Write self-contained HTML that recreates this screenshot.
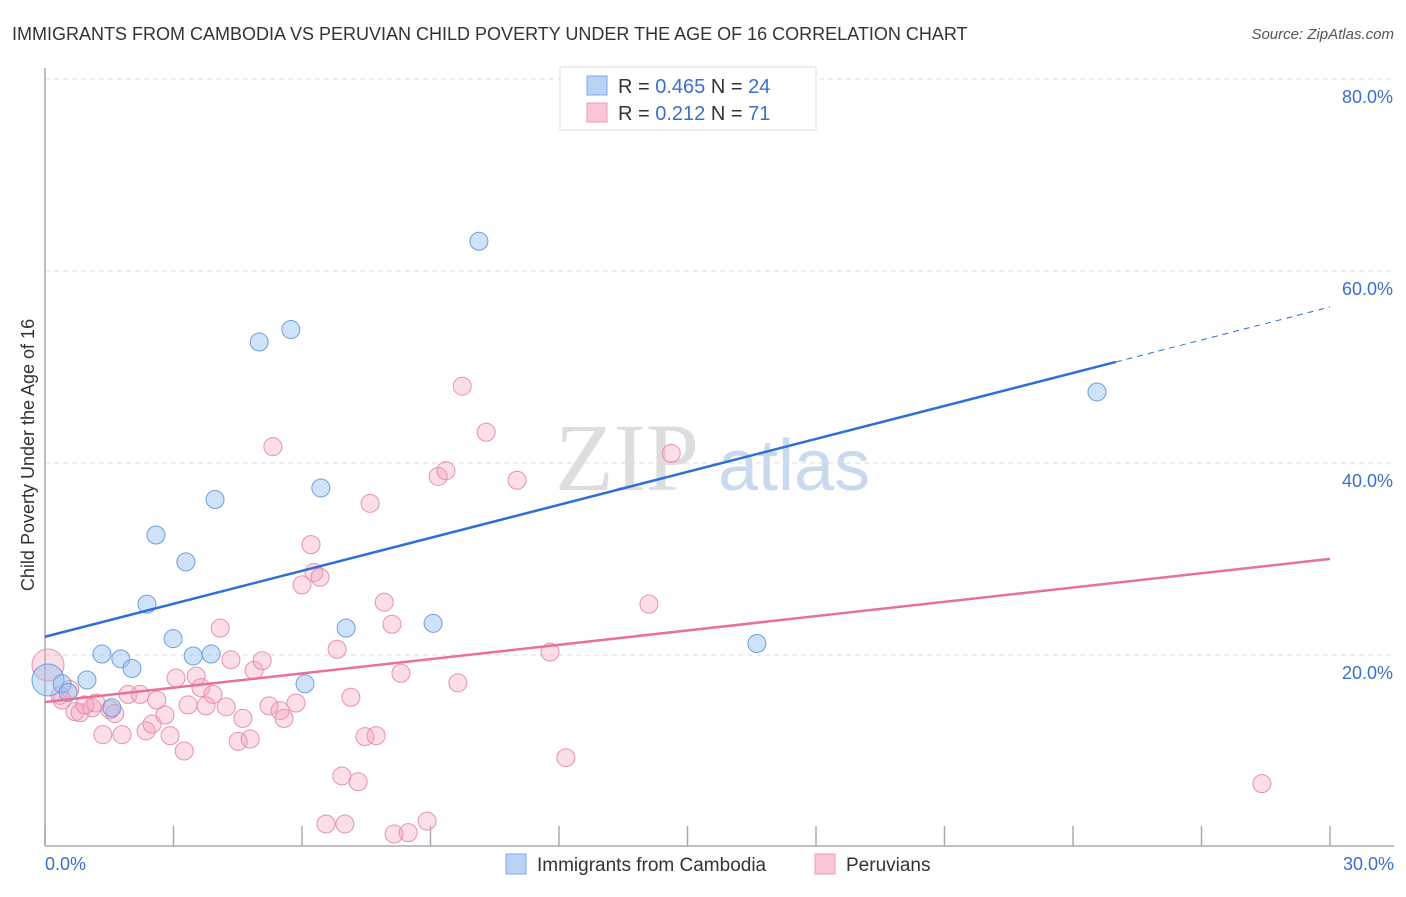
<!DOCTYPE html>
<html><head><meta charset="utf-8"><style>
body{margin:0;background:#fff;font-family:"Liberation Sans",sans-serif;}
</style></head><body>
<svg width="1406" height="892" xmlns="http://www.w3.org/2000/svg">
<text x="12" y="40" font-size="18" fill="#333">IMMIGRANTS FROM CAMBODIA VS PERUVIAN CHILD POVERTY UNDER THE AGE OF 16 CORRELATION CHART</text>
<text x="1394" y="39" font-size="15" fill="#555" text-anchor="end" font-style="italic">Source: ZipAtlas.com</text>
<text x="555" y="490" font-size="96" fill="#ddd" font-family="Liberation Serif,serif">ZIP</text>
<text x="718" y="490" font-size="72" fill="#c9d9ee">atlas</text>
<g id="grid"></g>
<g id="axes"></g>
<g id="marks"></g>
<text transform="translate(34,455) rotate(-90)" font-size="18" fill="#333" text-anchor="middle">Child Poverty Under the Age of 16</text>
<text x="45" y="870" font-size="18" fill="#3a6fd0">0.0%</text>
<text x="1394" y="870" font-size="18" fill="#3a6fd0" text-anchor="end">30.0%</text>
<g>
<rect x="560" y="67" width="256" height="63" fill="#fff" stroke="#ddd"/>
<rect x="587" y="76" width="20" height="19" fill="#b9d3f5" stroke="#7fa9e6"/>
<rect x="587" y="103" width="20" height="19" fill="#f9c6d5" stroke="#ef9ab4"/>
<text x="618" y="93" font-size="20" fill="#333">R = <tspan fill="#3a6fd0">0.465</tspan>   N = <tspan fill="#3a6fd0">24</tspan></text>
<text x="618" y="120" font-size="20" fill="#333">R =  <tspan fill="#3a6fd0">0.212</tspan>   N =  <tspan fill="#3a6fd0">71</tspan></text>
</g>
<g>
<rect x="506" y="854" width="20" height="20" fill="#b9d3f5" stroke="#7fa9e6"/>
<text x="537" y="871" font-size="19" fill="#333">Immigrants from Cambodia</text>
<rect x="815" y="854" width="20" height="20" fill="#f9c6d5" stroke="#ef9ab4"/>
<text x="846" y="871" font-size="19" fill="#333">Peruvians</text>
</g>
</svg>
<script>
const yTicks=[20,40,60,80];
const yTickLabels=["20.0%","40.0%","60.0%","80.0%"];
const xTicks=[0,3,6,9,12,15,18,21,24,27,30];
const blueX=[0.07,0.40,0.98,1.33,1.77,2.03,1.56,2.38,2.59,2.99,3.29,3.46,3.88,3.97,5.0,5.74,6.07,6.44,7.03,9.06,10.13,16.62,24.56,0.54];
const blueY=[17.4,17.0,17.4,20.1,19.6,18.6,14.5,25.3,32.5,21.7,29.7,19.9,20.1,36.2,52.6,53.9,17.0,37.4,22.8,23.3,63.1,21.2,47.4,16.1];
const pinkX=[0.07,0.35,0.58,0.70,0.82,1.10,1.19,1.35,1.52,1.63,1.80,1.94,2.22,2.36,2.50,2.61,2.80,2.92,3.06,3.25,3.34,3.53,3.64,3.76,3.92,4.09,4.23,4.34,4.51,4.62,4.79,4.88,5.07,5.23,5.32,5.49,5.58,5.86,6.00,6.21,6.28,6.42,6.82,6.93,7.0,7.14,7.31,7.47,7.59,7.73,7.92,8.10,8.15,8.31,8.48,8.92,9.18,9.36,9.64,9.74,10.30,11.02,11.79,12.16,14.10,14.62,28.41,0.93,0.40,6.56];
const pinkY=[18.96,15.8,16.4,14.1,14.0,14.5,15.0,11.7,14.3,13.9,11.7,15.9,15.9,12.1,12.8,15.3,13.75,11.6,17.6,10.0,14.8,17.8,16.6,14.7,15.9,22.8,14.6,19.5,11.0,13.4,11.25,18.4,19.4,14.7,41.7,14.2,13.4,15.0,27.3,31.5,28.6,28.1,20.6,7.4,2.4,15.6,6.8,11.5,35.8,11.6,25.5,23.2,1.35,18.1,1.5,2.7,38.6,39.2,17.1,48.0,43.2,38.2,20.3,9.3,25.3,41.0,6.6,14.8,15.3,2.4];
const blueTrend=[21.9,1.145];
const pinkTrend=[15.1,0.497];
const NS="http://www.w3.org/2000/svg";
const sx=v=>45+v/30*1285;
const sy=v=>847-v*9.6;
function mk(tag,parent,attrs){const e=document.createElementNS(NS,tag);for(const k in attrs)e.setAttribute(k,attrs[k]);parent.appendChild(e);return e;}
const grid=document.getElementById('grid'),axes=document.getElementById('axes'),marks=document.getElementById('marks');
yTicks.forEach((t,i)=>{
 const l=mk('line',grid,{x1:45,x2:1394,y1:sy(t),y2:sy(t),stroke:'#ddd','stroke-dasharray':'5,4'});
 
 
 const tx=mk('text',grid,{x:1393,y:sy(t)+24,'font-size':18,fill:'#3a6fd0','text-anchor':'end'});
 tx.textContent=yTickLabels[i];
 
 
});
const ax=mk('line',axes,{x1:45,x2:45,y1:68,y2:846,stroke:'#aaa','stroke-width':1.5});


const bx=mk('line',axes,{x1:45,x2:1394,y1:846,y2:846,stroke:'#aaa','stroke-width':1.5});


xTicks.forEach(t=>{
 const l=mk('line',axes,{x1:sx(t),x2:sx(t),y1:826,y2:846,stroke:'#aaa','stroke-width':1.5});
 
 
});
pinkX.forEach((x,i)=>{
 const c=mk('circle',marks,{cx:sx(x),cy:sy(pinkY[i]),r:i===0?16:9,fill:'rgba(244,160,185,0.35)',stroke:'#e891ab','stroke-width':1});
 
 
});
blueX.forEach((x,i)=>{
 const c=mk('circle',marks,{cx:sx(x),cy:sy(blueY[i]),r:i===0?16:9,fill:'rgba(150,190,240,0.45)',stroke:'#6a9fe0','stroke-width':1});
 
 
});
const bt=v=>blueTrend[0]+blueTrend[1]*v, pt=v=>pinkTrend[0]+pinkTrend[1]*v;
const b1=mk('line',marks,{x1:sx(0),y1:sy(bt(0)),x2:sx(25),y2:sy(bt(25)),stroke:'#2d6fd6','stroke-width':2.5});


const b2=mk('line',marks,{x1:sx(25),y1:sy(bt(25)),x2:sx(30),y2:sy(bt(30)),stroke:'#2d6fd6','stroke-width':1,'stroke-dasharray':'6,5'});


const p1=mk('line',marks,{x1:sx(0),y1:sy(pt(0)),x2:sx(30),y2:sy(pt(30)),stroke:'#e8709a','stroke-width':2.5});


</script>
</body></html>
